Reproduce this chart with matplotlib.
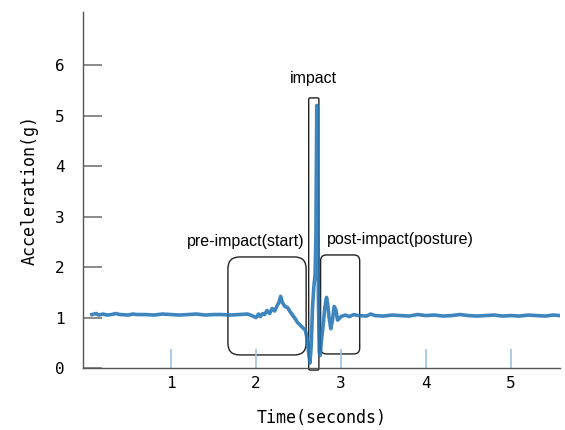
import matplotlib
matplotlib.use("Agg")
import matplotlib.pyplot as plt
from matplotlib.patches import FancyBboxPatch

# acceleration trace (seconds, g)
time_s = [0.07, 0.12, 0.15, 0.2, 0.25, 0.3, 0.35, 0.4, 0.5, 0.55, 0.6, 0.7, 0.8, 0.9, 1.0,
          1.1, 1.2, 1.3, 1.4, 1.5, 1.6, 1.7, 1.8, 1.9, 1.95, 2.0, 2.03, 2.05, 2.08, 2.1,
          2.13, 2.16, 2.19, 2.22, 2.25, 2.27, 2.29, 2.31, 2.34, 2.37, 2.4, 2.43, 2.46, 2.49,
          2.52, 2.55, 2.58, 2.6, 2.62, 2.635, 2.65, 2.665, 2.68, 2.695, 2.705, 2.715, 2.725,
          2.735, 2.745, 2.755, 2.77, 2.79, 2.81, 2.83, 2.845, 2.86, 2.88, 2.9, 2.92, 2.94,
          2.96, 2.98, 3.0, 3.05, 3.1, 3.15, 3.2, 3.3, 3.35, 3.4, 3.5, 3.6, 3.7, 3.8, 3.9,
          4.0, 4.1, 4.2, 4.3, 4.4, 4.5, 4.6, 4.7, 4.8, 4.9, 5.0, 5.1, 5.2, 5.3, 5.4, 5.5, 5.57]
accel_g = [1.06, 1.08, 1.05, 1.07, 1.05, 1.06, 1.08, 1.06, 1.05, 1.07, 1.06, 1.06, 1.05, 1.07,
           1.06, 1.05, 1.06, 1.07, 1.05, 1.06, 1.06, 1.05, 1.06, 1.07, 1.04, 1.0, 1.07, 1.02,
           1.08, 1.06, 1.14, 1.08, 1.18, 1.13, 1.24, 1.3, 1.42, 1.3, 1.22, 1.2, 1.12, 1.05,
           0.98, 0.9, 0.85, 0.8, 0.75, 0.6, 0.3, 0.1, 0.45, 1.2, 1.6, 1.85, 2.6, 5.2, 3.2,
           1.3, 0.3, 0.25, 0.55, 0.85, 1.2, 1.4, 1.25, 1.0, 0.78, 0.95, 1.22, 1.15, 0.95,
           0.98, 1.02, 1.05, 1.02, 1.06, 1.04, 1.03, 1.07, 1.04, 1.03, 1.05, 1.04, 1.03,
           1.06, 1.04, 1.05, 1.03, 1.04, 1.06, 1.04, 1.03, 1.04, 1.05, 1.03, 1.04, 1.03,
           1.05, 1.04, 1.03, 1.05, 1.04]

x_ticks = [1, 2, 3, 4, 5]
y_ticks = [0, 1, 2, 3, 4, 5, 6]

# phase regions: (label, t_start, t_end, g_low, g_high)
phases = [
    ("pre-impact(start)", 1.67, 2.59, 0.26, 2.2),
    ("impact", 2.62, 2.74, -0.04, 5.35),
    ("post-impact(posture)", 2.76, 3.22, 0.28, 2.24),
]

mono = "DejaVu Sans Mono"
sans = "Liberation Sans"

fig = plt.figure(figsize=(5.65, 4.3), dpi=100)
ax = fig.add_axes([0.147, 0.144, 0.844, 0.828])

ax.plot(time_s, accel_g, color="#2474b5", lw=2.6, alpha=0.88, solid_joinstyle="round")

ax.set_xlim(-0.034, 5.575)
ax.set_ylim(0, 7.05)

for spine in ["top", "right"]:
    ax.spines[spine].set_visible(False)
for spine in ["left", "bottom"]:
    ax.spines[spine].set_color("#555555")
    ax.spines[spine].set_linewidth(1.0)

ax.set_xticks(x_ticks)
ax.set_yticks(y_ticks)
ax.tick_params(axis="x", direction="in", length=14, color="#9cc3e6", width=1.2, pad=6,
               labelsize=11.5)
ax.tick_params(axis="y", direction="in", length=14, color="#777777", width=1.2, pad=13,
               labelsize=11.5)
for lab in ax.get_xticklabels() + ax.get_yticklabels():
    lab.set_family(mono)

ax.set_xlabel("Time(seconds)", family=mono, fontsize=12, labelpad=13)
ax.set_ylabel("Acceleration(g)", family=mono, fontsize=12, labelpad=12)

# rounded boxes: keep corner radius roughly equal in pixels
aspect = (85.0 / 50.5)
for name, t0, t1, g0, g1 in phases:
    width = t1 - t0
    rad = min(0.14, width * 0.15)
    box = FancyBboxPatch((t0, g0), width, g1 - g0,
                         boxstyle=f"round,pad=0,rounding_size={rad}",
                         mutation_aspect=aspect, fill=False,
                         edgecolor="#222222", lw=1.0, clip_on=False)
    ax.add_patch(box)

ax.text(1.88, 2.5, "pre-impact(start)", family=sans, fontsize=11.5, ha="center", va="center")
ax.text(2.67, 5.73, "impact", family=sans, fontsize=11.5, ha="center", va="center")
ax.text(3.7, 2.55, "post-impact(posture)", family=sans, fontsize=11.5, ha="center", va="center")

fig.savefig("out.png", dpi=100)
